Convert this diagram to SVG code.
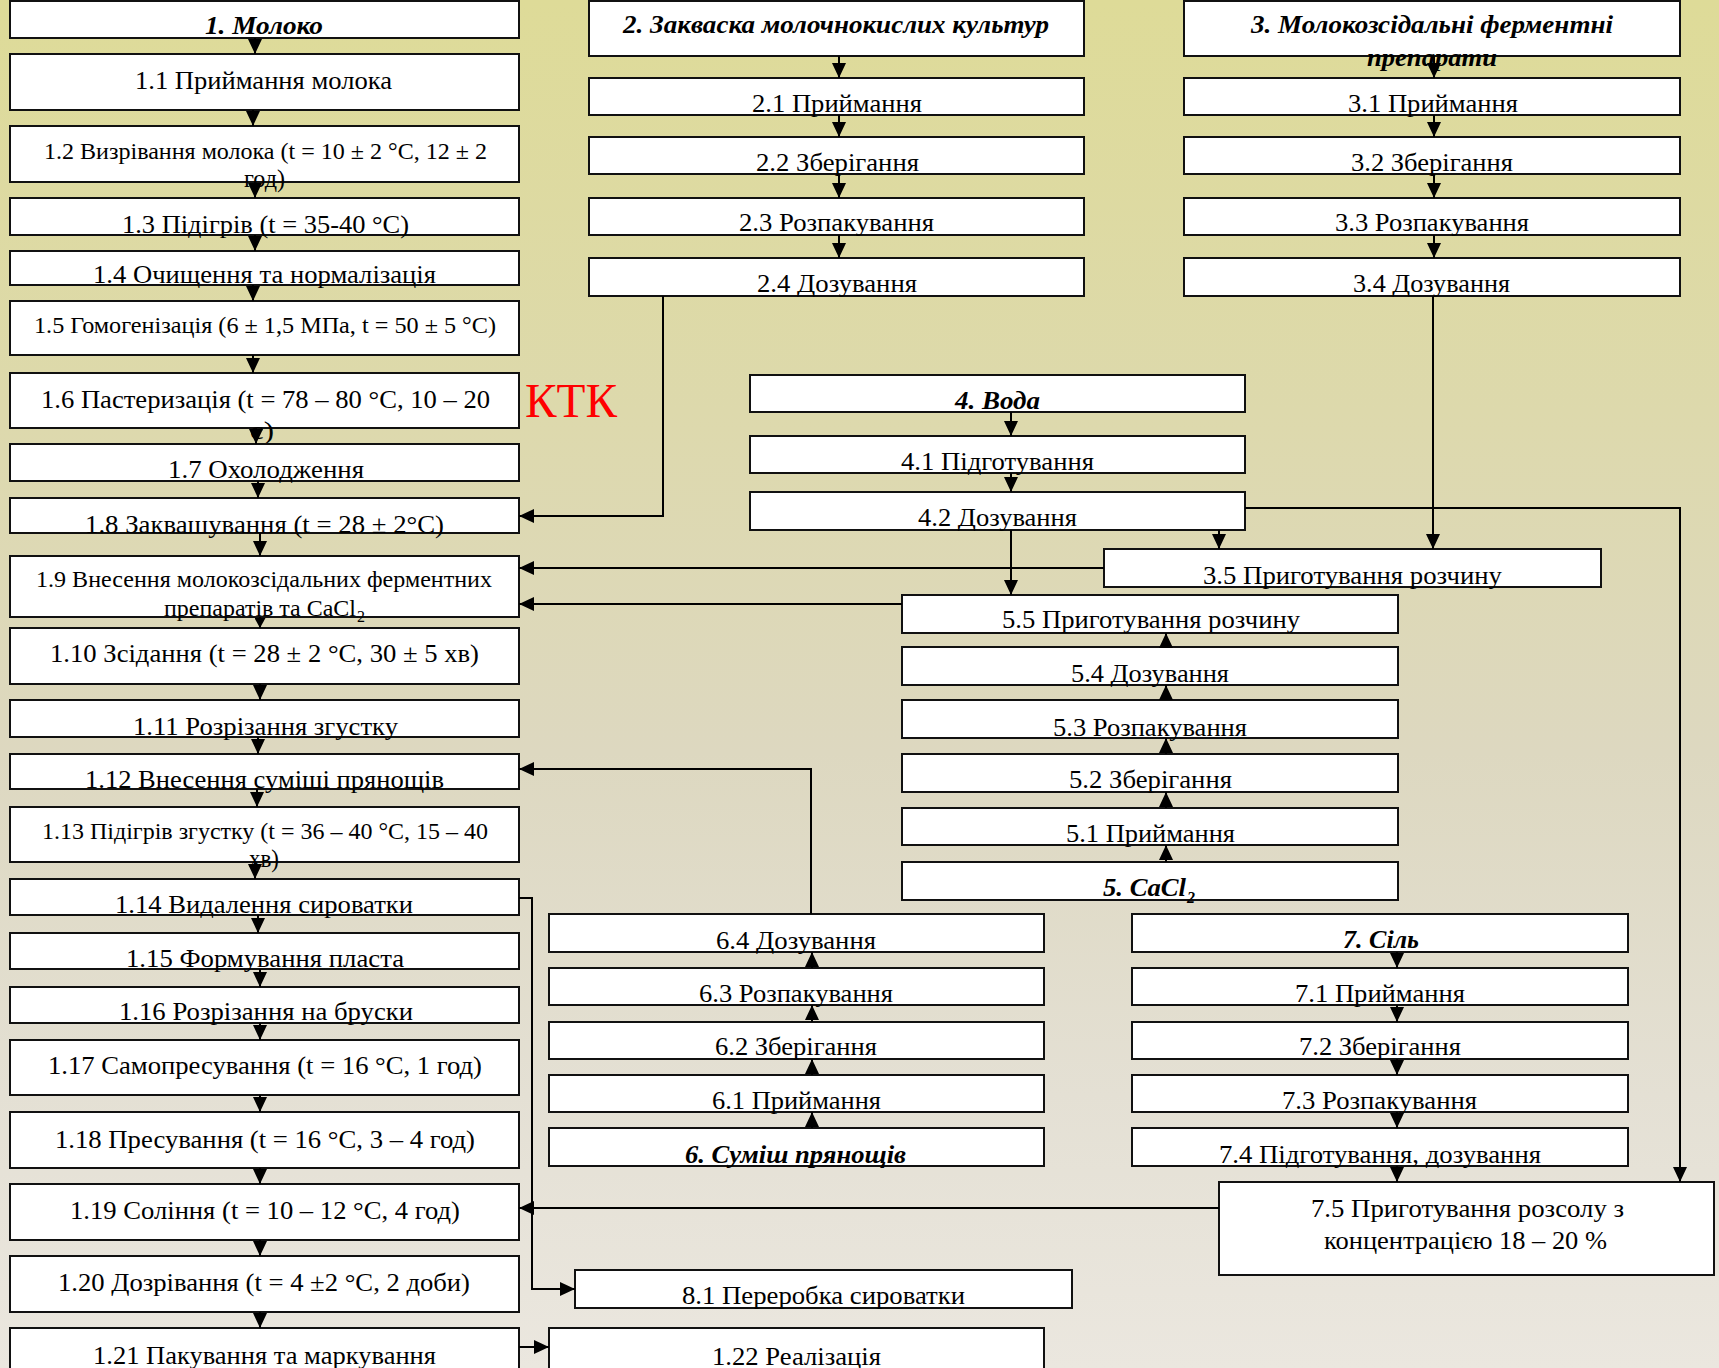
<svg xmlns="http://www.w3.org/2000/svg" width="1719" height="1368" viewBox="0 0 1719 1368">
<defs>
<linearGradient id="bg" x1="0" y1="0" x2="0" y2="1">
<stop offset="0" stop-color="#dedb98"/>
<stop offset="0.3" stop-color="#ddd9ac"/>
<stop offset="0.55" stop-color="#ddd8c0"/>
<stop offset="0.8" stop-color="#e4e0d4"/>
<stop offset="1" stop-color="#ebe7df"/>
</linearGradient>
<marker id="ar" viewBox="0 0 15 14" refX="15" refY="7" markerWidth="15" markerHeight="14" markerUnits="userSpaceOnUse" orient="auto">
<path d="M0,0 L15,7 L0,14 z" fill="#000"/>
</marker>
<marker id="ars" viewBox="0 0 10 11" refX="10" refY="5.5" markerWidth="10" markerHeight="11" markerUnits="userSpaceOnUse" orient="auto">
<path d="M0,0 L10,5.5 L0,11 z" fill="#000"/>
</marker>
<style>
.box{fill:#fff;stroke:#111;stroke-width:2}
.t{font-family:"Liberation Serif","Times New Roman",serif;font-size:26px;text-anchor:middle;fill:#000}
.s{font-size:24px}
.bi{font-weight:bold;font-style:italic}
.st{text-anchor:start}
.sub{font-family:"Liberation Serif","Times New Roman",serif;font-size:16px;fill:#000}
.c{fill:none;stroke:#000;stroke-width:2;marker-end:url(#ar)}
.cs{fill:none;stroke:#000;stroke-width:2;marker-end:url(#ars)}
.ktk{font-family:"Liberation Serif","Times New Roman",serif;font-size:48px;fill:#ff0000}
</style>
</defs>
<rect x="0" y="0" width="1719" height="1368" fill="url(#bg)"/>

<g id="n1"><rect class="box" x="10" y="1" width="509" height="37"/><text class="t bi" x="264" y="34" textLength="118" lengthAdjust="spacingAndGlyphs">1. Молоко</text></g>
<g id="n1_1"><rect class="box" x="10" y="54" width="509" height="56"/><text class="t" x="263.5" y="89" textLength="257" lengthAdjust="spacingAndGlyphs">1.1 Приймання молока</text></g>
<g id="n1_2"><rect class="box" x="10" y="126" width="509" height="56"/><text class="t s" x="265.5" y="159" textLength="443" lengthAdjust="spacingAndGlyphs">1.2 Визрівання молока (t = 10 ± 2 °С, 12 ± 2</text><text class="t" x="264.5" y="187" textLength="41" lengthAdjust="spacingAndGlyphs">год)</text></g>
<g id="n1_3"><rect class="box" x="10" y="198" width="509" height="37"/><text class="t" x="265.5" y="233" textLength="287" lengthAdjust="spacingAndGlyphs">1.3 Підігрів (t = 35-40 °С)</text></g>
<g id="n1_4"><rect class="box" x="10" y="251" width="509" height="34"/><text class="t" x="264.5" y="283" textLength="343" lengthAdjust="spacingAndGlyphs">1.4 Очищення та нормалізація</text></g>
<g id="n1_5"><rect class="box" x="10" y="301" width="509" height="54"/><text class="t s" x="265" y="333" textLength="462" lengthAdjust="spacingAndGlyphs">1.5 Гомогенізація (6 ± 1,5 МПа, t = 50 ± 5 °С)</text></g>
<g id="n1_6"><rect class="box" x="10" y="373" width="509" height="55"/><text class="t" x="265.5" y="408" textLength="449" lengthAdjust="spacingAndGlyphs">1.6 Пастеризація (t = 78 – 80 °С, 10 – 20</text><text class="t" x="262" y="439" textLength="24" lengthAdjust="spacingAndGlyphs">с)</text></g>
<g id="n1_7"><rect class="box" x="10" y="444" width="509" height="37"/><text class="t" x="266" y="478" textLength="196" lengthAdjust="spacingAndGlyphs">1.7 Охолодження</text></g>
<g id="n1_8"><rect class="box" x="10" y="498" width="509" height="35"/><text class="t" x="264.5" y="533" textLength="359" lengthAdjust="spacingAndGlyphs">1.8 Заквашування (t = 28 ± 2°С)</text></g>
<g id="n1_9"><rect class="box" x="10" y="556" width="509" height="61"/><text class="t s" x="264" y="587" textLength="456" lengthAdjust="spacingAndGlyphs">1.9 Внесення молокозсідальних ферментних</text><text class="t s" x="260" y="616" textLength="192" lengthAdjust="spacingAndGlyphs">препаратів та CaCl</text><text class="sub" x="357" y="622">2</text></g>
<g id="n1_10"><rect class="box" x="10" y="628" width="509" height="56"/><text class="t" x="264.5" y="662" textLength="429" lengthAdjust="spacingAndGlyphs">1.10 Зсідання (t = 28 ± 2 °С, 30 ± 5 хв)</text></g>
<g id="n1_11"><rect class="box" x="10" y="700" width="509" height="37"/><text class="t" x="265.5" y="735" textLength="265" lengthAdjust="spacingAndGlyphs">1.11 Розрізання згустку</text></g>
<g id="n1_12"><rect class="box" x="10" y="754" width="509" height="35"/><text class="t" x="264.5" y="788" textLength="359" lengthAdjust="spacingAndGlyphs">1.12 Внесення суміші прянощів</text></g>
<g id="n1_13"><rect class="box" x="10" y="807" width="509" height="55"/><text class="t s" x="265" y="839" textLength="446" lengthAdjust="spacingAndGlyphs">1.13 Підігрів згустку (t = 36 – 40 °С, 15 – 40</text><text class="t" x="264" y="867" textLength="30" lengthAdjust="spacingAndGlyphs">хв)</text></g>
<g id="n1_14"><rect class="box" x="10" y="879" width="509" height="36"/><text class="t" x="264" y="913" textLength="298" lengthAdjust="spacingAndGlyphs">1.14 Видалення сироватки</text></g>
<g id="n1_15"><rect class="box" x="10" y="933" width="509" height="36"/><text class="t" x="265" y="967" textLength="278" lengthAdjust="spacingAndGlyphs">1.15 Формування пласта</text></g>
<g id="n1_16"><rect class="box" x="10" y="987" width="509" height="36"/><text class="t" x="266" y="1020" textLength="294" lengthAdjust="spacingAndGlyphs">1.16 Розрізання на бруски</text></g>
<g id="n1_17"><rect class="box" x="10" y="1040" width="509" height="55"/><text class="t" x="265" y="1074" textLength="434" lengthAdjust="spacingAndGlyphs">1.17 Самопресування  (t = 16 °С, 1 год)</text></g>
<g id="n1_18"><rect class="box" x="10" y="1112" width="509" height="56"/><text class="t" x="265" y="1148" textLength="420" lengthAdjust="spacingAndGlyphs">1.18 Пресування  (t = 16 °С, 3 – 4 год)</text></g>
<g id="n1_19"><rect class="box" x="10" y="1184" width="509" height="56"/><text class="t" x="265" y="1219" textLength="390" lengthAdjust="spacingAndGlyphs">1.19 Соління (t = 10 – 12 °С, 4 год)</text></g>
<g id="n1_20"><rect class="box" x="10" y="1256" width="509" height="56"/><text class="t" x="264" y="1291" textLength="412" lengthAdjust="spacingAndGlyphs">1.20 Дозрівання (t = 4 ±2 °С, 2 доби)</text></g>
<g id="n1_21"><rect class="box" x="10" y="1328" width="509" height="50"/><text class="t" x="264.5" y="1364" textLength="343" lengthAdjust="spacingAndGlyphs">1.21 Пакування та маркування</text></g>
<g id="n1_22"><rect class="box" x="549" y="1328" width="495" height="50"/><text class="t" x="796.5" y="1365" textLength="169" lengthAdjust="spacingAndGlyphs">1.22 Реалізація</text></g>

<g id="n2"><rect class="box" x="589" y="1" width="495" height="55"/><text class="t bi" x="836" y="33" textLength="426" lengthAdjust="spacingAndGlyphs">2. Закваска молочнокислих культур</text></g>
<g id="n2_1"><rect class="box" x="589" y="78" width="495" height="37"/><text class="t" x="837" y="112" textLength="170" lengthAdjust="spacingAndGlyphs">2.1 Приймання</text></g>
<g id="n2_2"><rect class="box" x="589" y="137" width="495" height="37"/><text class="t" x="837.5" y="171" textLength="163" lengthAdjust="spacingAndGlyphs">2.2 Зберігання</text></g>
<g id="n2_3"><rect class="box" x="589" y="198" width="495" height="37"/><text class="t" x="836.5" y="231" textLength="195" lengthAdjust="spacingAndGlyphs">2.3 Розпакування</text></g>
<g id="n2_4"><rect class="box" x="589" y="258" width="495" height="38"/><text class="t" x="837" y="292" textLength="160" lengthAdjust="spacingAndGlyphs">2.4 Дозування</text></g>

<g id="n3"><rect class="box" x="1184" y="1" width="496" height="55"/><text class="t bi" x="1432" y="33" textLength="362" lengthAdjust="spacingAndGlyphs">3. Молокозсідальні ферментні</text><text class="t bi" x="1432" y="66" textLength="130" lengthAdjust="spacingAndGlyphs">препарати</text></g>
<g id="n3_1"><rect class="box" x="1184" y="78" width="496" height="37"/><text class="t" x="1433" y="112" textLength="170" lengthAdjust="spacingAndGlyphs">3.1 Приймання</text></g>
<g id="n3_2"><rect class="box" x="1184" y="137" width="496" height="37"/><text class="t" x="1432" y="171" textLength="162" lengthAdjust="spacingAndGlyphs">3.2 Зберігання</text></g>
<g id="n3_3"><rect class="box" x="1184" y="198" width="496" height="37"/><text class="t" x="1432" y="231" textLength="194" lengthAdjust="spacingAndGlyphs">3.3 Розпакування</text></g>
<g id="n3_4"><rect class="box" x="1184" y="258" width="496" height="38"/><text class="t" x="1431.5" y="292" textLength="157" lengthAdjust="spacingAndGlyphs">3.4 Дозування</text></g>
<g id="n3_5"><rect class="box" x="1104" y="549" width="497" height="38"/><text class="t" x="1352.5" y="584" textLength="299" lengthAdjust="spacingAndGlyphs">3.5 Приготування розчину</text></g>

<g id="n4"><rect class="box" x="750" y="375" width="495" height="37"/><text class="t bi" x="997.5" y="409" textLength="85" lengthAdjust="spacingAndGlyphs">4. Вода</text></g>
<g id="n4_1"><rect class="box" x="750" y="436" width="495" height="37"/><text class="t" x="997.5" y="470" textLength="193" lengthAdjust="spacingAndGlyphs">4.1 Підготування</text></g>
<g id="n4_2"><rect class="box" x="750" y="492" width="495" height="38"/><text class="t" x="997.5" y="526" textLength="159" lengthAdjust="spacingAndGlyphs">4.2 Дозування</text></g>

<g id="n5_5"><rect class="box" x="902" y="595" width="496" height="38"/><text class="t" x="1151" y="628" textLength="298" lengthAdjust="spacingAndGlyphs">5.5 Приготування розчину</text></g>
<g id="n5_4"><rect class="box" x="902" y="647" width="496" height="38"/><text class="t" x="1150" y="682" textLength="158" lengthAdjust="spacingAndGlyphs">5.4 Дозування</text></g>
<g id="n5_3"><rect class="box" x="902" y="700" width="496" height="38"/><text class="t" x="1150" y="736" textLength="194" lengthAdjust="spacingAndGlyphs">5.3 Розпакування</text></g>
<g id="n5_2"><rect class="box" x="902" y="754" width="496" height="38"/><text class="t" x="1150.5" y="788" textLength="163" lengthAdjust="spacingAndGlyphs">5.2 Зберігання</text></g>
<g id="n5_1"><rect class="box" x="902" y="808" width="496" height="37"/><text class="t" x="1150.5" y="842" textLength="169" lengthAdjust="spacingAndGlyphs">5.1 Приймання</text></g>
<g id="n5"><rect class="box" x="902" y="862" width="496" height="38"/><text class="t bi st" x="1103" y="896" textLength="83" lengthAdjust="spacingAndGlyphs">5. CaCl</text><text class="sub bi" x="1187" y="903">2</text></g>

<g id="n6_4"><rect class="box" x="549" y="914" width="495" height="38"/><text class="t" x="796" y="949" textLength="160" lengthAdjust="spacingAndGlyphs">6.4 Дозування</text></g>
<g id="n6_3"><rect class="box" x="549" y="968" width="495" height="37"/><text class="t" x="796" y="1002" textLength="194" lengthAdjust="spacingAndGlyphs">6.3 Розпакування</text></g>
<g id="n6_2"><rect class="box" x="549" y="1022" width="495" height="37"/><text class="t" x="796" y="1055" textLength="162" lengthAdjust="spacingAndGlyphs">6.2 Зберігання</text></g>
<g id="n6_1"><rect class="box" x="549" y="1075" width="495" height="37"/><text class="t" x="796.5" y="1109" textLength="169" lengthAdjust="spacingAndGlyphs">6.1 Приймання</text></g>
<g id="n6"><rect class="box" x="549" y="1128" width="495" height="38"/><text class="t bi" x="795.5" y="1163" textLength="221" lengthAdjust="spacingAndGlyphs">6. Суміш прянощів</text></g>

<g id="n7"><rect class="box" x="1132" y="914" width="496" height="38"/><text class="t bi" x="1381" y="948" textLength="76" lengthAdjust="spacingAndGlyphs">7. Сіль</text></g>
<g id="n7_1"><rect class="box" x="1132" y="968" width="496" height="37"/><text class="t" x="1380" y="1002" textLength="170" lengthAdjust="spacingAndGlyphs">7.1 Приймання</text></g>
<g id="n7_2"><rect class="box" x="1132" y="1022" width="496" height="37"/><text class="t" x="1380" y="1055" textLength="162" lengthAdjust="spacingAndGlyphs">7.2 Зберігання</text></g>
<g id="n7_3"><rect class="box" x="1132" y="1075" width="496" height="37"/><text class="t" x="1379.5" y="1109" textLength="195" lengthAdjust="spacingAndGlyphs">7.3 Розпакування</text></g>
<g id="n7_4"><rect class="box" x="1132" y="1128" width="496" height="38"/><text class="t" x="1380" y="1163" textLength="322" lengthAdjust="spacingAndGlyphs">7.4 Підготування, дозування</text></g>
<g id="n7_5"><rect class="box" x="1219" y="1182" width="495" height="93"/><text class="t" x="1467.5" y="1217" textLength="313" lengthAdjust="spacingAndGlyphs">7.5 Приготування розсолу з</text><text class="t" x="1465.5" y="1249" textLength="283" lengthAdjust="spacingAndGlyphs">концентрацією 18 – 20 %</text></g>

<g id="n8_1"><rect class="box" x="575" y="1270" width="497" height="38"/><text class="t" x="823.5" y="1304" textLength="283" lengthAdjust="spacingAndGlyphs">8.1 Переробка сироватки</text></g>

<g id="ktk"><text class="ktk" x="525" y="417" textLength="92" lengthAdjust="spacingAndGlyphs">КТК</text></g>

<g id="connectors">
<path class="c" d="M255,38 V54"/>
<path class="c" d="M253,110 V126"/>
<path class="c" d="M255,182 V198"/>
<path class="c" d="M255,235 V251"/>
<path class="c" d="M253,285 V301"/>
<path class="c" d="M253,355 V373"/>
<path class="c" d="M256,428 V444"/>
<path class="c" d="M258,481 V498"/>
<path class="c" d="M260,533 V556"/>
<path class="cs" d="M260,617 V628"/>
<path class="c" d="M260,684 V700"/>
<path class="c" d="M258,737 V754"/>
<path class="c" d="M257,789 V807"/>
<path class="c" d="M255,862 V879"/>
<path class="c" d="M258,915 V933"/>
<path class="c" d="M260,969 V987"/>
<path class="c" d="M260,1023 V1040"/>
<path class="c" d="M260,1095 V1112"/>
<path class="c" d="M260,1168 V1184"/>
<path class="c" d="M260,1240 V1256"/>
<path class="c" d="M260,1312 V1328"/>
<path class="c" d="M519,1347 H549"/>
<path class="c" d="M519,898 H532 V1289 H575"/>

<path class="c" d="M839,56 V78"/>
<path class="c" d="M839,115 V137"/>
<path class="c" d="M839,174 V198"/>
<path class="c" d="M839,235 V258"/>
<path class="c" d="M663,296 V516 H519"/>

<path class="c" d="M1434,56 V78"/>
<path class="c" d="M1434,115 V137"/>
<path class="c" d="M1434,174 V198"/>
<path class="c" d="M1434,235 V258"/>
<path class="c" d="M1433,296 V549"/>

<path class="c" d="M1011,412 V436"/>
<path class="c" d="M1011,473 V492"/>
<path class="c" d="M1011,530 V595"/>
<path class="c" d="M1219,530 V549"/>
<path class="c" d="M1245,508 H1680 V1182"/>
<path class="c" d="M1104,568 H519"/>
<path class="c" d="M902,604 H519"/>

<path class="c" d="M1166,647 V633"/>
<path class="c" d="M1166,700 V685"/>
<path class="c" d="M1166,754 V738"/>
<path class="c" d="M1166,808 V792"/>
<path class="c" d="M1166,862 V845"/>

<path class="c" d="M812,968 V952"/>
<path class="c" d="M812,1022 V1005"/>
<path class="c" d="M812,1075 V1059"/>
<path class="c" d="M812,1128 V1112"/>
<path class="c" d="M811,914 V769 H519"/>

<path class="c" d="M1397,952 V968"/>
<path class="c" d="M1397,1005 V1022"/>
<path class="c" d="M1397,1059 V1075"/>
<path class="c" d="M1397,1112 V1128"/>
<path class="c" d="M1397,1166 V1182"/>
<path class="c" d="M1219,1208 H519"/>
</g>
</svg>
